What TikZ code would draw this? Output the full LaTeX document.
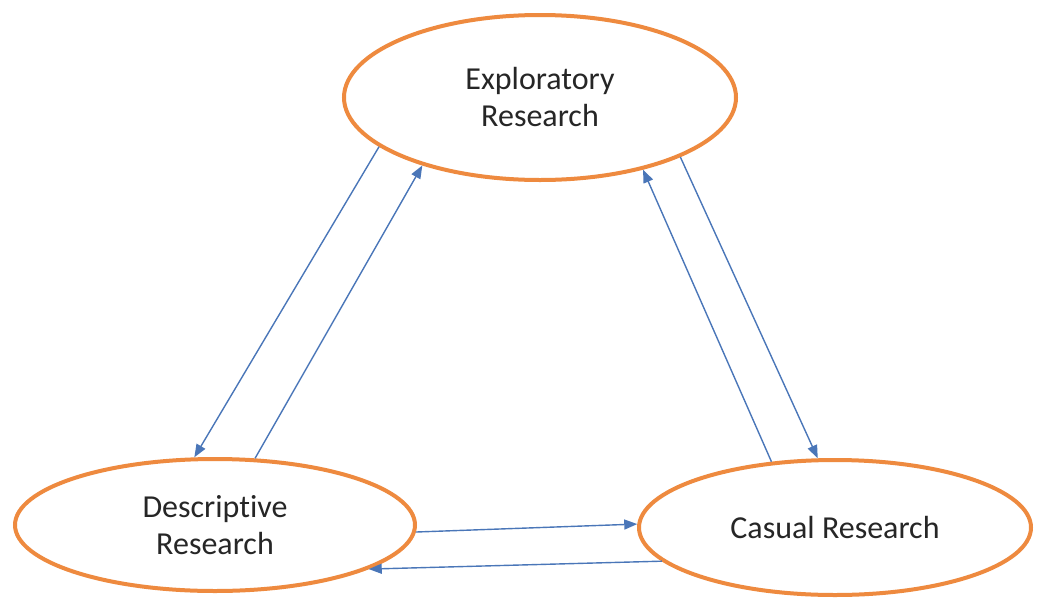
\documentclass[tikz,border=0pt]{standalone}
\usepackage{fontspec}
\setmainfont{Carlito}[Ligatures={NoCommon,NoContextual}]
\usetikzlibrary{shapes.geometric,arrows.meta}
\definecolor{rim}{HTML}{EE8A3F}
\definecolor{link}{HTML}{4A76B8}
\definecolor{ink}{HTML}{262626}

\tikzset{
  oval/.style={ellipse,draw=rim,line width=4pt,fill=white,align=center,
    text=ink,font=\fontsize{32}{37}\selectfont},
  arrow/.style={draw=link,line width=1.4pt,-{Triangle[length=13pt,width=10pt]}}
}

\begin{document}
\begin{tikzpicture}[x=1pt,y=-1pt]
\useasboundingbox (0,0) rectangle (1037,598);
\node[oval,minimum width=392pt,minimum height=165pt] (expl) at (540,97.5) {Exploratory\\Research};
\node[oval,minimum width=400pt,minimum height=132pt] (desc) at (215,525) {Descriptive\\Research};
\node[oval,minimum width=392pt,minimum height=135pt] (caus) at (835,527.5) {Casual Research};
% left pair
\draw[arrow] (expl.197) -- (desc.107.4);
\draw[arrow] (desc.59.5) -- (expl.210.4);
% right pair
\draw[arrow] (expl.337.7) -- (caus.104);
\draw[arrow] (caus.134.8) -- (expl.325.6);
% bottom pair
\draw[arrow] (desc.-2.3) -- (caus.179.3);
\draw[arrow] (caus.191.2) -- (desc.344.1);
\end{tikzpicture}
\end{document}
